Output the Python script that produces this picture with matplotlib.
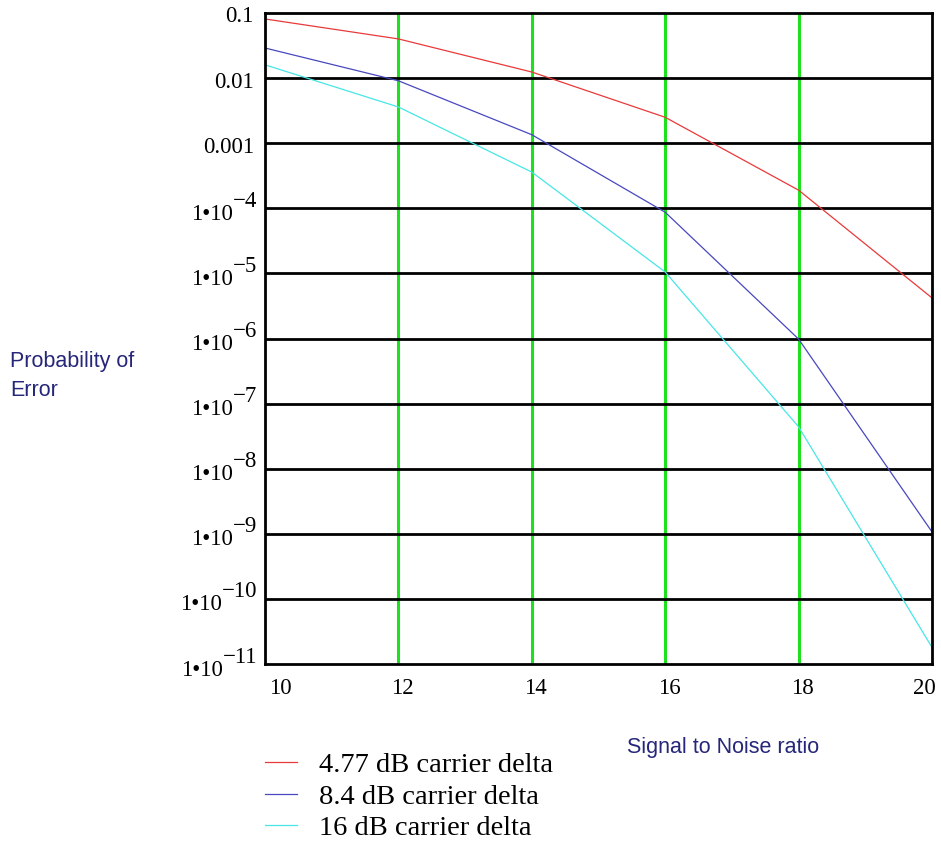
import matplotlib
matplotlib.use('Agg')
import matplotlib.pyplot as plt
import matplotlib.transforms as mtransforms

# -- data ------------------------------------------------------------
snr = [10, 12, 14, 16, 18, 20]
err_477 = [0.081, 0.040, 0.0124, 0.0025, 1.9e-4, 4.2e-6]
err_84 = [0.029, 0.0091, 1.35e-3, 8.7e-5, 9.8e-7, 1.07e-9]
err_16 = [0.016, 0.0036, 3.6e-4, 1.05e-5, 4.4e-8, 1.8e-11]
series_labels = ['4.77 dB carrier delta', '8.4 dB carrier delta', '16 dB carrier delta']
series_colors = ['#e83a3a', '#4848c0', '#48e6e6']
x_ticks = [10, 12, 14, 16, 18, 20]
decades = [-1, -2, -3, -4, -5, -6, -7, -8, -9, -10, -11]

serif = 'Liberation Serif'
sans = 'Liberation Sans'
navy = '#26267a'
px = 0.72  # one pixel in points at dpi 100

fig = plt.figure(figsize=(9.41, 8.43), dpi=100)
ax = fig.add_axes([265 / 941, 1 - 664 / 843, 667 / 941, 651 / 843])

lines = []
for ys, lab, col in zip([err_477, err_84, err_16], series_labels, series_colors):
    ln, = ax.semilogy(snr, ys, '-', color=col, lw=0.9, label=lab, zorder=3)
    lines.append(ln)

ax.set_xlim(10, 20)
ax.set_ylim(1e-11, 0.1)

# grid: green verticals, black horizontals
for xv in x_ticks[1:-1]:
    ax.axvline(xv, color='#1ee01e', lw=2.2, zorder=1)
for e in decades[1:-1]:
    ax.axhline(10.0 ** e, color='black', lw=2.0, zorder=2)

for sp in ax.spines.values():
    sp.set_linewidth(2.0)
    sp.set_zorder(4)

ax.tick_params(length=0)
ax.minorticks_off()

# x tick labels
ax.set_xticks(x_ticks)
ax.set_xticklabels([str(v) for v in x_ticks], fontfamily=serif, fontsize=16.5)
ax.tick_params(axis='x', pad=10)
shift = mtransforms.ScaledTranslation(4 / 100, 0, fig.dpi_scale_trans)
xlabs = ax.get_xticklabels()
for t in xlabs:
    t.set_transform(t.get_transform() + shift)
xlabs[0].set_ha('left')
xlabs[-1].set_ha('right')

# y tick labels, Mathcad style 1*10^-n
ax.set_yticks([10.0 ** e for e in decades])
ax.set_yticklabels([])
trans = ax.get_yaxis_transform()
for e in decades:
    y = 10.0 ** e
    if e >= -3:
        ax.annotate('0.' + '0' * (-e - 1) + '1', xy=(0, y), xycoords=trans,
                    xytext=(-11 * px, -4 * px), textcoords='offset points',
                    ha='right', va='center', fontfamily=serif, fontsize=16.5)
    else:
        ex = ax.annotate('\u2212' + str(-e), xy=(0, y), xycoords=trans,
                         xytext=(-8 * px, 7 * px), textcoords='offset points',
                         ha='right', va='center', fontfamily=serif, fontsize=16.5)
        ax.annotate('1\u202210', xy=(0, 0.5), xycoords=ex,
                    xytext=(0, -13 * px), textcoords='offset points',
                    ha='right', va='center', fontfamily=serif, fontsize=16.5)

# axis titles
fig.text(10 / 941, 1 - 376 / 843, 'Probability of\nError', ha='left', va='center',
         fontfamily=sans, fontsize=15.5, color=navy, linespacing=1.45)
fig.text(723 / 941, 1 - 747 / 843, 'Signal to Noise ratio', ha='center', va='center',
         fontfamily=sans, fontsize=15.5, color=navy)

# legend
fig.legend(lines, series_labels, loc='upper left', bbox_to_anchor=(265 / 941, 1 - 752 / 843),
           frameon=False, prop={'family': serif, 'size': 20.5}, handlelength=1.12,
           handletextpad=0.78, labelspacing=0.2, borderaxespad=0, borderpad=0)

fig.savefig('out.png', dpi=100)
